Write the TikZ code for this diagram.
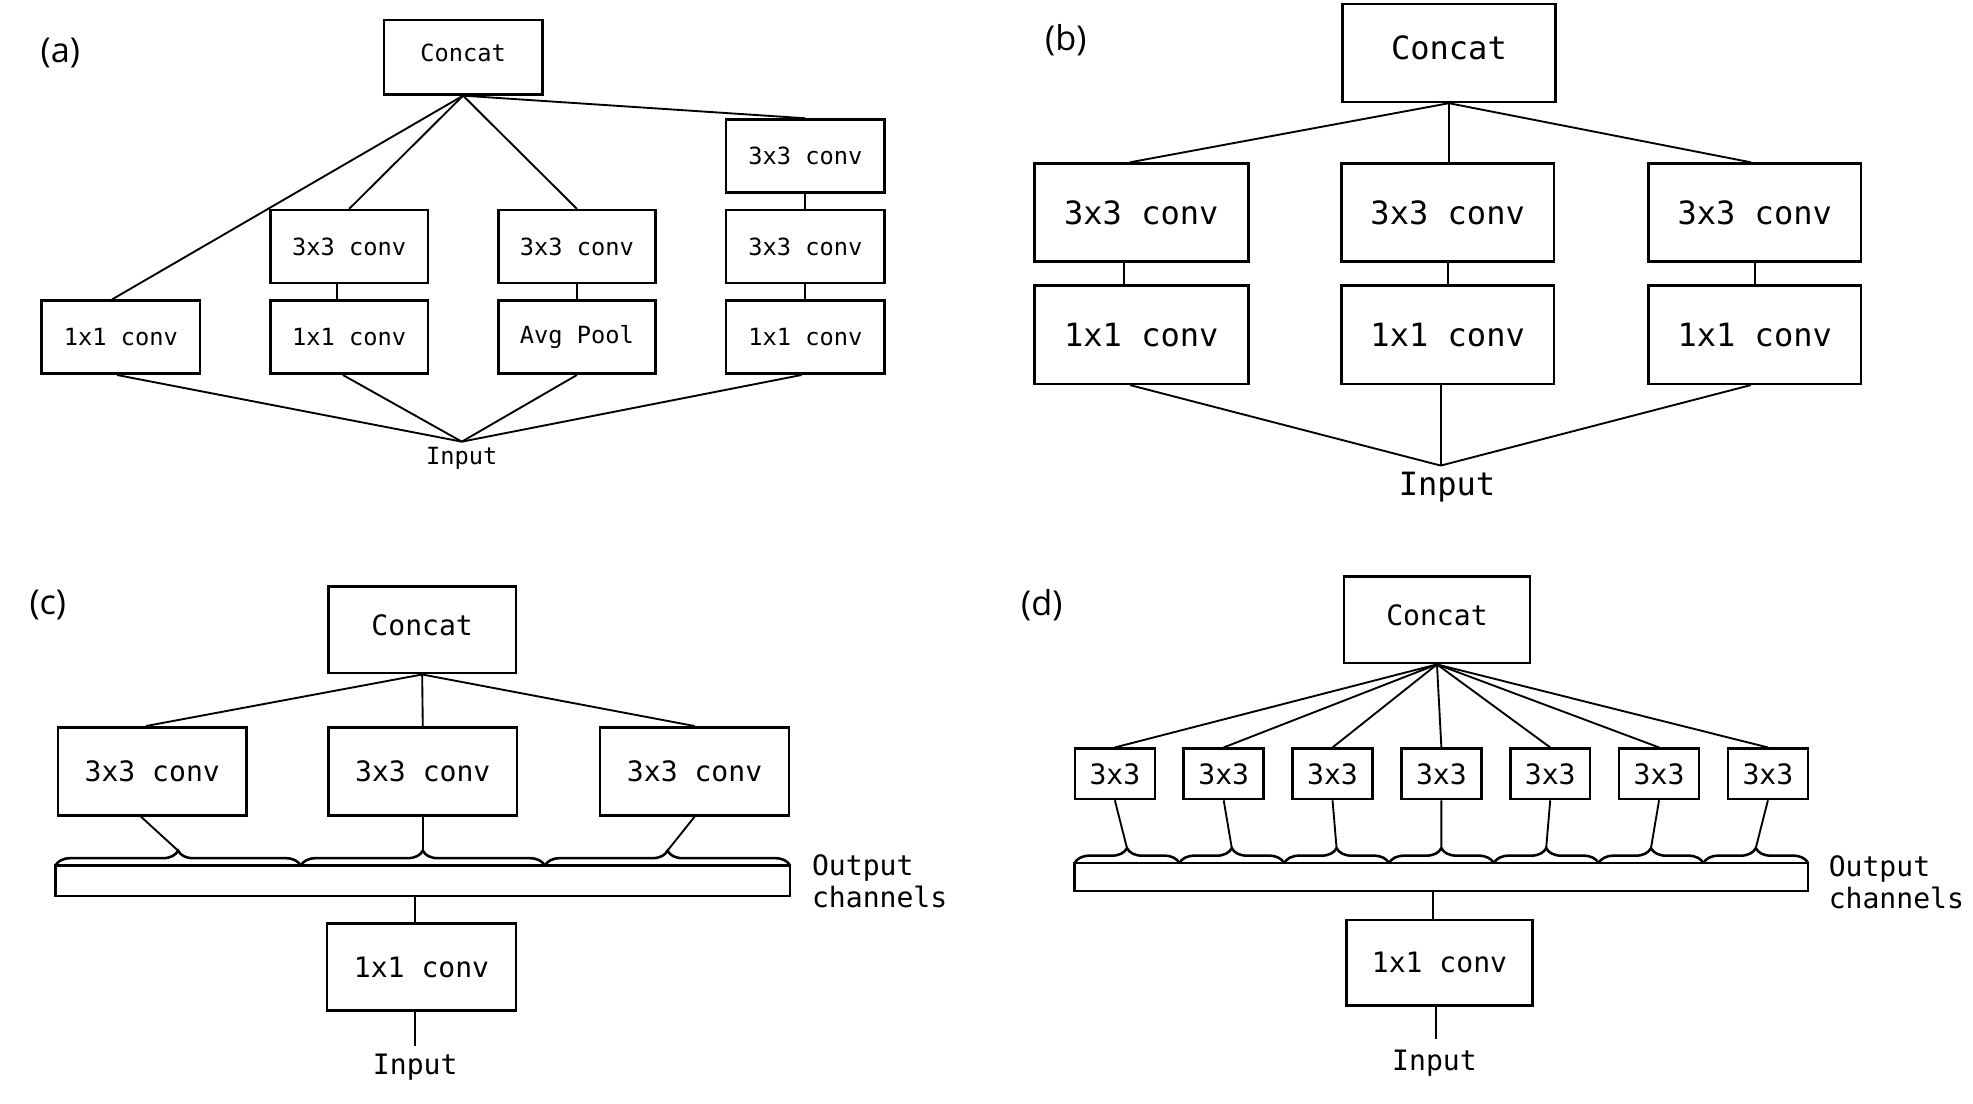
\documentclass[tikz,border=0pt]{standalone}
\usepackage{fontspec}
\setmainfont{Open Sans}
\setmonofont{DejaVu Sans Mono}
\usetikzlibrary{calc,decorations.pathreplacing}
\newcommand\mybox[7]{\node[box,#7,minimum width={(#4-#2)*0.02cm},minimum height={(#5-#3)*0.02cm}] (#1) at ({(#2+#4)/2},{(#3+#5)/2}) {#6};}
\begin{document}
\begin{tikzpicture}[x=0.02cm,y=-0.02cm,
  box/.style={draw,line width=1.15pt,inner sep=0pt},
  conn/.style={line width=0.85pt},
  brc/.style={line width=1.15pt,decorate,decoration={brace,amplitude=0.24cm}},
  lab/.style={font=\fontsize{15.5}{18}\selectfont,inner sep=0pt},
  fa/.style={font=\ttfamily\fontsize{10.7}{12}\selectfont},
  fb/.style={font=\ttfamily\fontsize{14.5}{16}\selectfont},
  fc/.style={font=\ttfamily\fontsize{12.7}{14.2}\selectfont},
  cct/.style={text depth=0.45em},
  txt/.style={inner sep=0pt}]
\useasboundingbox (0,0) rectangle (1568,877);

% ---------------- panel (a)
\node[lab] (la) at (48,42) {(a)};
\mybox{aconcat}{305}{16}{431}{75}{Concat}{fa,cct}
\mybox{a4t}{577}{95}{703}{153}{3x3 conv}{fa}
\mybox{a2m}{215}{167}{340}{225}{3x3 conv}{fa}
\mybox{a3m}{396}{167}{521}{225}{3x3 conv}{fa}
\mybox{a4m}{577}{167}{703}{225}{3x3 conv}{fa}
\mybox{a1b}{33}{239}{159}{297}{1x1 conv}{fa}
\mybox{a2b}{215}{239}{340}{297}{1x1 conv}{fa}
\mybox{a3b}{396}{239}{521}{297}{Avg Pool}{fa}
\mybox{a4b}{577}{239}{703}{297}{1x1 conv}{fa}
\coordinate (ain) at (367,351);
\node[fa,txt] (ainput) at (367,364) {Input};
\draw[conn] (aconcat.south) -- ($(a1b.north)+(-7,0)$);
\draw[conn] (aconcat.south) -- (a2m.north);
\draw[conn] (aconcat.south) -- (a3m.north);
\draw[conn] (aconcat.south) -- (a4t.north);
\draw[conn] ($(a2m.south)+(-10,0)$) -- ($(a2b.north)+(-10,0)$);
\draw[conn] (a3m.south) -- (a3b.north);
\draw[conn] (a4t.south) -- (a4m.north);
\draw[conn] (a4m.south) -- (a4b.north);
\draw[conn] ($(a1b.south)+(-3,0)$) -- (ain);
\draw[conn] ($(a2b.south)+(-5,0)$) -- (ain);
\draw[conn] (a3b.south) -- (ain);
\draw[conn] ($(a4b.south)+(-3,0)$) -- (ain);

% ---------------- panel (b)
\node[lab] (lb) at (847,32) {(b)};
\mybox{bconcat}{1067}{3}{1236}{81}{Concat}{fb,cct}
\mybox{b1t}{822}{130}{992}{208}{3x3 conv}{fb}
\mybox{b2t}{1066}{130}{1235}{208}{3x3 conv}{fb}
\mybox{b3t}{1310}{130}{1479}{208}{3x3 conv}{fb}
\mybox{b1b}{822}{227}{992}{305}{1x1 conv}{fb}
\mybox{b2b}{1066}{227}{1235}{305}{1x1 conv}{fb}
\mybox{b3b}{1310}{227}{1479}{305}{1x1 conv}{fb}
\coordinate (bin) at (1145,370);
\node[fb,txt] (binput) at (1150,387) {Input};
\draw[conn] (bconcat.south) -- ($(b1t.north)+(-9,0)$);
\draw[conn] (bconcat.south) -- (bconcat.south |- b2t.north);
\draw[conn] (bconcat.south) -- ($(b3t.north)+(-3,0)$);
\draw[conn] ($(b1t.south)+(-14,0)$) -- ($(b1b.north)+(-14,0)$);
\draw[conn] (b2t.south) -- (b2b.north);
\draw[conn] (b3t.south) -- (b3b.north);
\draw[conn] ($(b1b.south)+(-9,0)$) -- (bin);
\draw[conn] (bin |- b2b.south) -- (bin);
\draw[conn] ($(b3b.south)+(-3,0)$) -- (bin);

% ---------------- panel (c)
\node[lab] (lc) at (38,481) {(c)};
\mybox{cconcat}{261}{466}{410}{535}{Concat}{fc,cct}
\mybox{c1}{46}{578}{196}{648}{3x3 conv}{fc}
\mybox{c2}{261}{578}{411}{648}{3x3 conv}{fc}
\mybox{c3}{477}{578}{627}{648}{3x3 conv}{fc}
\mybox{cbar}{44}{688}{628}{712}{}{}
\draw[brc] (44,688) -- (239,688);
\draw[brc] (239,688) -- (433,688);
\draw[brc] (433,688) -- (628,688);
\coordinate (ct1) at (141.5,676);
\coordinate (ct2) at (336,676);
\coordinate (ct3) at (530.5,676);
\node[fc,txt,anchor=west,align=left] (cout) at (645,700.5) {Output\\channels};
\mybox{c1x1}{260}{734}{410}{803}{1x1 conv}{fc}
\coordinate (cb) at (330,712);
\coordinate (cin) at (330,831);
\node[fc,txt] (cinput) at (330,848) {Input};
\draw[conn] (cconcat.south) -- ($(c1.north)+(-5,0)$);
\draw[conn] (cconcat.south) -- (c2.north);
\draw[conn] (cconcat.south) -- (c3.north);
\draw[conn] ($(c1.south)+(-9,0)$) -- (ct1);
\draw[conn] (c2.south) -- (ct2);
\draw[conn] (c3.south) -- (ct3);
\draw[conn] (cb) -- (cb |- c1x1.north);
\draw[conn] (cin |- c1x1.south) -- (cin);

% ---------------- panel (d)
\node[lab] (ld) at (828,481) {(d)};
\mybox{dconcat}{1068}{458}{1216}{527}{Concat}{fc,cct}
\mybox{dbar}{854}{686}{1437}{708}{}{}
\foreach \i in {1,...,7}{
  \pgfmathsetmacro\cx{886+86.5*(\i-1)}
  \node[box,fc,minimum width=1.27cm,minimum height=0.8cm] (d\i) at (\cx,615) {3x3};
  \pgfmathsetmacro\xa{854+83.2857*(\i-1)}
  \pgfmathsetmacro\xb{\xa+83.2857}
  \pgfmathsetmacro\xm{\xa+41.643}
  \draw[brc] (\xa,686) -- (\xb,686);
  \coordinate (dt\i) at (\xm,674);
  \draw[conn] (dconcat.south) -- (d\i.north);
  \draw[conn] (d\i.south) -- (dt\i);
}
\node[fc,txt,anchor=west,align=left] (dout) at (1453,701) {Output\\channels};
\mybox{d1x1}{1070}{731}{1218}{799}{1x1 conv}{fc}
\coordinate (db) at (1139,708);
\coordinate (din) at (1141,826);
\node[fc,txt] (dinput) at (1140,845) {Input};
\draw[conn] (db) -- (db |- d1x1.north);
\draw[conn] (din |- d1x1.south) -- (din);
\end{tikzpicture}
\end{document}
